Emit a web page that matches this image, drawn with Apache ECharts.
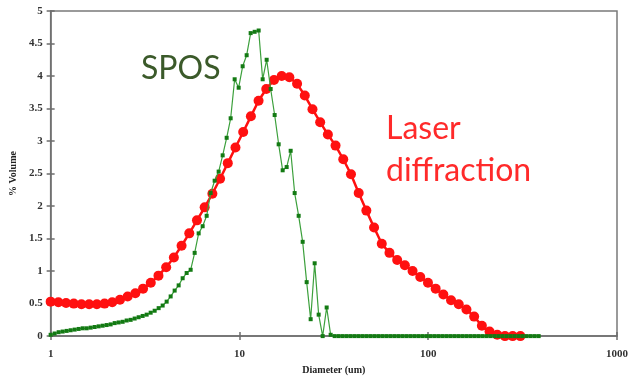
<!DOCTYPE html>
<html>
<head>
<meta charset="utf-8">
<script src="https://cdn.jsdelivr.net/npm/echarts@6/dist/echarts.min.js"></script>
<style>html,body{margin:0;padding:0;background:#fff;}#c{width:632px;height:380px;}</style>
</head>
<body>
<div id="c"></div>
<script>
// Laser diffraction: diameter (um) and % volume
var laserDiameter = [1.000,1.099,1.207,1.326,1.456,1.599,1.757,1.930,2.120,2.329,2.558,2.810,3.087,3.391,3.725,4.092,4.495,4.937,5.424,5.958,6.545,7.189,7.897,8.675,9.528,10.47,11.50,12.63,13.87,15.24,16.74,18.39,20.20,22.19,24.37,26.77,29.41,32.30,35.48,38.98,42.82,47.03,51.66,56.75,62.34,68.48,75.22,82.63,90.76,99.70,109.5,120.3,132.1,145.1,159.4,175.1,192.4,211.3,232.1,255.0,280.1,307.7];
var laserVolume = [0.53,0.52,0.51,0.50,0.49,0.49,0.49,0.50,0.52,0.56,0.61,0.66,0.73,0.82,0.93,1.06,1.21,1.39,1.58,1.78,1.98,2.19,2.42,2.66,2.90,3.14,3.38,3.62,3.80,3.94,4.00,3.98,3.88,3.70,3.49,3.29,3.10,2.93,2.72,2.49,2.20,1.93,1.67,1.42,1.28,1.17,1.09,1.00,0.91,0.82,0.73,0.64,0.55,0.49,0.41,0.30,0.16,0.07,0.02,0.00,0.00,0.00];

// SPOS: diameter (um) and % volume
var sposDiameter = [1,1.05,1.1025,1.1576,1.2155,1.2763,1.3401,1.4071,1.4775,1.5513,1.6289,1.7103,1.7959,1.8856,1.9799,2.0789,2.1829,2.2920,2.4066,2.5270,2.6533,2.7860,2.9253,3.0715,3.2251,3.3864,3.5557,3.7335,3.9201,4.1161,4.3219,4.5380,4.7649,5.0032,5.2533,5.5160,5.7918,6.0814,6.3855,6.7048,7.0400,7.3920,7.7616,8.1497,8.5572,8.9850,9.4343,9.9060,10.401,10.921,11.467,12.041,12.643,13.275,13.939,14.636,15.367,16.136,16.943,17.790,18.679,19.613,20.594,21.624,22.705,23.840,25.032,26.284,27.598,28.978,30.426,31.948,33.545,35.222,36.984,38.833,40.774,42.813,44.954,47.201,49.561,52.040,54.641,57.374,60.242,63.254,66.417,69.738,73.225,76.886,80.730,84.767,89.005,93.455,98.128,103.03,108.19,113.60,119.28,125.24,131.50,138.08,144.98,152.23,159.84,167.83,176.23,185.04,194.29,204.00,214.20,224.91,236.16,247.97,260.37,273.39,287.06,301.41,316.48,332.30,348.92,366.37,384.68];
var sposVolume = [0.02,0.04,0.06,0.07,0.08,0.09,0.10,0.11,0.12,0.12,0.13,0.14,0.15,0.16,0.17,0.18,0.20,0.21,0.22,0.24,0.25,0.27,0.29,0.31,0.33,0.36,0.39,0.43,0.47,0.53,0.61,0.70,0.78,0.89,0.97,1.02,1.28,1.58,1.69,1.85,2.20,2.39,2.53,2.78,3.05,3.35,3.95,3.82,4.15,4.32,4.66,4.68,4.70,3.95,4.25,3.80,3.40,2.95,2.55,2.60,2.85,2.20,1.85,1.45,0.83,0.26,1.12,0.33,0.00,0.44,0.02,0,0,0,0,0,0,0,0,0,0,0,0,0,0,0,0,0,0,0,0,0,0,0,0,0,0,0,0,0,0,0,0,0,0,0,0,0,0,0,0,0,0,0,0,0,0,0,0,0,0,0,0];

var xTicks = [1, 10, 100, 1000];
var yMin = 0, yMax = 5, yStep = 0.5;

function pairs(xs, ys) { return xs.map(function (x, i) { return [x, ys[i]]; }); }

var chart = echarts.init(document.getElementById('c'), null, {renderer: 'canvas'});
var labelFont = {fontFamily: 'Liberation Serif', fontWeight: 'bold', fontSize: 11, color: '#333'};
var axisGray = '#6e6e6e';
chart.setOption({
  animation: false,
  grid: {left: 48, right: 15, top: 11, bottom: 38, show: true, borderColor: '#7a7a7a', borderWidth: 1.5},
  xAxis: [{
    type: 'log', logBase: 10, min: xTicks[0], max: xTicks[xTicks.length - 1],
    name: 'Diameter (um)', nameLocation: 'middle', nameGap: 25,
    nameTextStyle: {fontFamily: 'Liberation Serif', fontWeight: 'bold', fontSize: 10, color: '#222'},
    axisLine: {lineStyle: {color: axisGray, width: 1.5}},
    axisTick: {length: 4, lineStyle: {color: axisGray, width: 1.5}},
    axisLabel: Object.assign({margin: 13, formatter: function (v) { return String(Math.round(v)); }}, labelFont),
    splitLine: {show: false}, minorTick: {show: false}
  }, {
    type: 'log', logBase: 10, min: xTicks[0], max: xTicks[xTicks.length - 1], position: 'bottom',
    axisLine: {show: false}, axisLabel: {show: false}, splitLine: {show: false},
    axisTick: {inside: true, length: 4, lineStyle: {color: axisGray, width: 1.5}}
  }],
  yAxis: [{
    type: 'value', min: yMin, max: yMax, interval: yStep,
    name: '% Volume', nameLocation: 'middle', nameGap: 31, nameRotate: 90,
    nameTextStyle: {fontFamily: 'Liberation Serif', fontWeight: 'bold', fontSize: 10, color: '#222'},
    axisLine: {show: true, lineStyle: {color: axisGray, width: 1.5}},
    axisTick: {show: true, length: 4, lineStyle: {color: axisGray, width: 1.5}},
    axisLabel: Object.assign({margin: 8}, labelFont),
    splitLine: {show: false}
  }, {
    type: 'value', min: yMin, max: yMax, interval: yStep, position: 'left',
    axisLine: {show: false}, axisLabel: {show: false}, splitLine: {show: false},
    axisTick: {show: true, inside: true, length: 4, lineStyle: {color: axisGray, width: 1.5}}
  }],
  series: [{
    name: 'Laser diffraction', type: 'line', data: pairs(laserDiameter, laserVolume),
    symbol: 'circle', symbolSize: 10, showAllSymbol: true,
    itemStyle: {color: '#ff1010'}, lineStyle: {color: '#ff1010', width: 2.5}, z: 2
  }, {
    name: 'SPOS', type: 'line', data: pairs(sposDiameter, sposVolume),
    symbol: 'rect', symbolSize: 4, showAllSymbol: true,
    itemStyle: {color: '#137a13'}, lineStyle: {color: '#3ca03c', width: 1.2}, z: 3
  }],
  graphic: [
    {type: 'text', left: 141, top: 53, style: {text: 'SPOS', font: '32px Lato', fill: '#3b5a2a'}},
    {type: 'text', left: 386, top: 113, style: {text: 'Laser', font: '32px Lato', fill: '#ff2a2a'}},
    {type: 'text', left: 386, top: 155, style: {text: 'diffraction', font: '32px Lato', fill: '#ff2a2a'}}
  ]
});
</script>
</body>
</html>
